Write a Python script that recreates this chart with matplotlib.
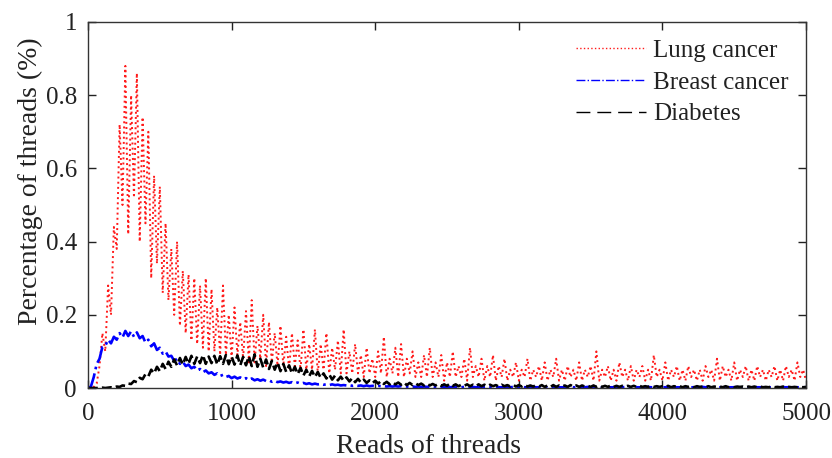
import numpy as np
import matplotlib
matplotlib.use('Agg')
import matplotlib.pyplot as plt

plt.rcParams['font.family'] = ['Liberation Serif', 'DejaVu Serif']

# reads of threads, sampled every 20 reads
reads = np.arange(0, 5001, 20)

lung = [
    0.0, 0.0, 0.003, 0.012, 0.06, 0.15, 0.10, 0.28, 0.20, 0.44,
    0.38, 0.72, 0.50, 0.88, 0.42, 0.80, 0.52, 0.86, 0.40, 0.74,
    0.45, 0.70, 0.30, 0.58, 0.34, 0.55, 0.26, 0.45, 0.24, 0.38,
    0.20, 0.40, 0.17, 0.32, 0.15, 0.31, 0.13, 0.30, 0.12, 0.28,
    0.11, 0.30, 0.10, 0.27, 0.10, 0.22, 0.09, 0.28, 0.09, 0.20,
    0.08, 0.22, 0.09, 0.18, 0.08, 0.21, 0.07, 0.24, 0.07, 0.17,
    0.08, 0.20, 0.06, 0.18, 0.07, 0.15, 0.06, 0.17, 0.06, 0.14,
    0.05, 0.15, 0.06, 0.13, 0.05, 0.16, 0.05, 0.12, 0.05, 0.16,
    0.04, 0.12, 0.05, 0.15, 0.04, 0.11, 0.05, 0.13, 0.04, 0.16,
    0.04, 0.10, 0.04, 0.12, 0.04, 0.09, 0.03, 0.11, 0.04, 0.08,
    0.03, 0.10, 0.04, 0.14, 0.03, 0.08, 0.04, 0.11, 0.03, 0.12,
    0.03, 0.08, 0.04, 0.10, 0.03, 0.07, 0.03, 0.09, 0.03, 0.11,
    0.03, 0.07, 0.03, 0.09, 0.02, 0.07, 0.03, 0.10, 0.03, 0.06,
    0.03, 0.08, 0.02, 0.11, 0.03, 0.06, 0.03, 0.08, 0.02, 0.06,
    0.03, 0.09, 0.02, 0.06, 0.03, 0.08, 0.02, 0.05, 0.03, 0.07,
    0.02, 0.05, 0.03, 0.08, 0.02, 0.05, 0.03, 0.06, 0.02, 0.07,
    0.02, 0.05, 0.03, 0.08, 0.02, 0.05, 0.02, 0.06, 0.03, 0.05,
    0.02, 0.07, 0.02, 0.05, 0.03, 0.06, 0.02, 0.10, 0.02, 0.05,
    0.03, 0.06, 0.02, 0.05, 0.02, 0.07, 0.03, 0.05, 0.02, 0.06,
    0.02, 0.05, 0.03, 0.06, 0.02, 0.05, 0.02, 0.09, 0.03, 0.05,
    0.02, 0.07, 0.02, 0.05, 0.03, 0.06, 0.02, 0.05, 0.02, 0.06,
    0.03, 0.05, 0.02, 0.05, 0.02, 0.06, 0.03, 0.05, 0.02, 0.08,
    0.02, 0.06, 0.03, 0.05, 0.02, 0.07, 0.02, 0.05, 0.03, 0.06,
    0.02, 0.05, 0.02, 0.06, 0.03, 0.05, 0.02, 0.05, 0.03, 0.06,
    0.02, 0.05, 0.02, 0.06, 0.03, 0.05, 0.02, 0.07, 0.03, 0.05,
    0.02,
]

breast = [
    0.0, 0.004, 0.03, 0.065, 0.08, 0.112, 0.115, 0.132, 0.122, 0.14,
    0.132, 0.15, 0.138, 0.156, 0.142, 0.155, 0.14, 0.152, 0.136, 0.142,
    0.124, 0.132, 0.114, 0.122, 0.104, 0.11, 0.094, 0.1, 0.086, 0.088,
    0.074, 0.08, 0.066, 0.072, 0.06, 0.064, 0.054, 0.058, 0.048, 0.052,
    0.043, 0.048, 0.04, 0.043, 0.036, 0.04, 0.033, 0.036, 0.03, 0.033,
    0.027, 0.031, 0.026, 0.029, 0.024, 0.027, 0.022, 0.026, 0.021, 0.024,
    0.02, 0.023, 0.019, 0.021, 0.017, 0.02, 0.016, 0.018, 0.015, 0.017,
    0.014, 0.016, 0.013, 0.015, 0.012, 0.014, 0.011, 0.013, 0.01, 0.012,
    0.01, 0.011, 0.009, 0.01, 0.008, 0.01, 0.008, 0.009, 0.007, 0.008,
    0.007, 0.008, 0.006, 0.007, 0.006, 0.007, 0.005, 0.007, 0.005, 0.006,
    0.005, 0.006, 0.005, 0.005, 0.004, 0.005, 0.004, 0.005, 0.004, 0.005,
    0.004, 0.004, 0.003, 0.004, 0.003, 0.004, 0.003, 0.004, 0.003, 0.003,
    0.003, 0.002, 0.003, 0.002, 0.003, 0.003, 0.002, 0.003, 0.002, 0.003,
    0.002, 0.003, 0.002, 0.002, 0.003, 0.002, 0.003, 0.002, 0.002, 0.003,
    0.002, 0.002, 0.003, 0.002, 0.002, 0.003, 0.002, 0.002, 0.003, 0.002,
    0.002, 0.003, 0.002, 0.002, 0.002, 0.003, 0.002, 0.002, 0.002, 0.003,
    0.002, 0.002, 0.002, 0.003, 0.002, 0.002, 0.002, 0.002, 0.003, 0.002,
    0.002, 0.002, 0.002, 0.002, 0.003, 0.002, 0.002, 0.002, 0.002, 0.002,
    0.003, 0.002, 0.002, 0.002, 0.002, 0.002, 0.002, 0.003, 0.002, 0.002,
    0.002, 0.002, 0.002, 0.002, 0.002, 0.003, 0.002, 0.002, 0.002, 0.002,
    0.002, 0.002, 0.003, 0.002, 0.002, 0.002, 0.002, 0.002, 0.002, 0.002,
    0.002, 0.002, 0.002, 0.002, 0.003, 0.002, 0.002, 0.002, 0.002, 0.002,
    0.002, 0.002, 0.002, 0.002, 0.002, 0.002, 0.003, 0.002, 0.002, 0.002,
    0.002, 0.002, 0.002, 0.002, 0.002, 0.002, 0.002, 0.002, 0.002, 0.002,
    0.002, 0.002, 0.002, 0.002, 0.002, 0.002, 0.002, 0.002, 0.002, 0.002,
    0.002,
]

diabetes = [
    0.0, 0.0, 0.0, 0.0, 0.0, 0.001, 0.0, 0.001, 0.002, 0.001,
    0.004, 0.003, 0.007, 0.006, 0.012, 0.011, 0.019, 0.016, 0.028, 0.024,
    0.038, 0.032, 0.05, 0.04, 0.058, 0.046, 0.066, 0.052, 0.072, 0.058,
    0.078, 0.062, 0.082, 0.064, 0.085, 0.066, 0.088, 0.066, 0.086, 0.068,
    0.09, 0.066, 0.086, 0.068, 0.088, 0.064, 0.087, 0.066, 0.09, 0.065,
    0.086, 0.064, 0.089, 0.062, 0.085, 0.062, 0.087, 0.06, 0.092, 0.058,
    0.08, 0.056, 0.078, 0.052, 0.074, 0.05, 0.07, 0.046, 0.066, 0.044,
    0.062, 0.04, 0.058, 0.038, 0.055, 0.034, 0.05, 0.032, 0.047, 0.03,
    0.044, 0.028, 0.04, 0.026, 0.037, 0.023, 0.034, 0.021, 0.031, 0.02,
    0.029, 0.018, 0.027, 0.016, 0.025, 0.015, 0.023, 0.014, 0.021, 0.013,
    0.02, 0.012, 0.019, 0.011, 0.017, 0.01, 0.016, 0.01, 0.015, 0.009,
    0.015, 0.008, 0.014, 0.008, 0.013, 0.008, 0.012, 0.007, 0.012, 0.007,
    0.011, 0.007, 0.011, 0.006, 0.01, 0.006, 0.012, 0.006, 0.01, 0.005,
    0.009, 0.006, 0.01, 0.005, 0.009, 0.005, 0.01, 0.005, 0.009, 0.005,
    0.009, 0.005, 0.008, 0.004, 0.009, 0.005, 0.008, 0.004, 0.009, 0.004,
    0.008, 0.004, 0.009, 0.004, 0.007, 0.004, 0.008, 0.004, 0.008, 0.003,
    0.007, 0.003, 0.008, 0.003, 0.007, 0.004, 0.007, 0.003, 0.008, 0.003,
    0.007, 0.003, 0.007, 0.004, 0.006, 0.003, 0.007, 0.003, 0.007, 0.003,
    0.006, 0.003, 0.007, 0.003, 0.006, 0.003, 0.006, 0.004, 0.006, 0.003,
    0.006, 0.003, 0.006, 0.003, 0.005, 0.003, 0.006, 0.003, 0.005, 0.003,
    0.005, 0.003, 0.006, 0.002, 0.005, 0.003, 0.005, 0.002, 0.005, 0.003,
    0.005, 0.002, 0.005, 0.003, 0.004, 0.002, 0.005, 0.002, 0.004, 0.003,
    0.004, 0.002, 0.005, 0.002, 0.004, 0.002, 0.004, 0.003, 0.004, 0.002,
    0.004, 0.002, 0.004, 0.002, 0.004, 0.002, 0.003, 0.002, 0.004, 0.002,
    0.003, 0.002, 0.004, 0.002, 0.003, 0.002, 0.003, 0.002, 0.003, 0.002,
    0.003,
]

xticks = [0, 1000, 2000, 3000, 4000, 5000]
yticks = [0, 0.2, 0.4, 0.6, 0.8, 1]
ytick_labels = ['0', '0.2', '0.4', '0.6', '0.8', '1']

fig = plt.figure(figsize=(8.32, 4.58), dpi=100)
ax = fig.add_axes([0.1058, 0.1528, 0.863, 0.7992])

ax.plot(reads, lung, color='#ff1a1a', linestyle=':', linewidth=1.4, label='Lung cancer')
ax.plot(reads, breast, color='#0000ff', linestyle='-.', linewidth=1.9, label='Breast cancer')
ax.plot(reads, diabetes, color='black', linestyle='--', linewidth=1.9, label='Diabetes')

ax.set_xlim(0, 5000)
ax.set_ylim(0, 1)
ax.set_xticks(xticks)
ax.set_yticks(yticks)
ax.set_yticklabels(ytick_labels)

ax.tick_params(direction='in', top=True, right=True, length=6, width=1,
               labelsize=18, colors='#222222')
ax.tick_params(axis='x', pad=11)
ax.tick_params(axis='y', pad=8)
for s in ax.spines.values():
    s.set_color('#333333')
    s.set_linewidth(1)

ax.set_xlabel('Reads of threads', fontsize=20, color='#222222', labelpad=6)
ax.set_ylabel('Percentage of threads (%)', fontsize=20, color='#222222')
# labels sit a little off-centre in the original
ax.xaxis.label.set_x(0.4735)
ax.yaxis.set_label_coords(-0.0627, 0.566)

leg = ax.legend(loc='upper right', bbox_to_anchor=(1.0, 1.0), frameon=False,
                fontsize=18, handlelength=2.8, handletextpad=0.3, labelspacing=0.37,
                borderaxespad=0.3)
handles = leg.get_lines()
for line in handles:
    line.set_linewidth(1.0)
handles[2].set_dashes([10, 5])
for t in leg.get_texts():
    t.set_color('#222222')

fig.savefig('out.png', dpi=100)
